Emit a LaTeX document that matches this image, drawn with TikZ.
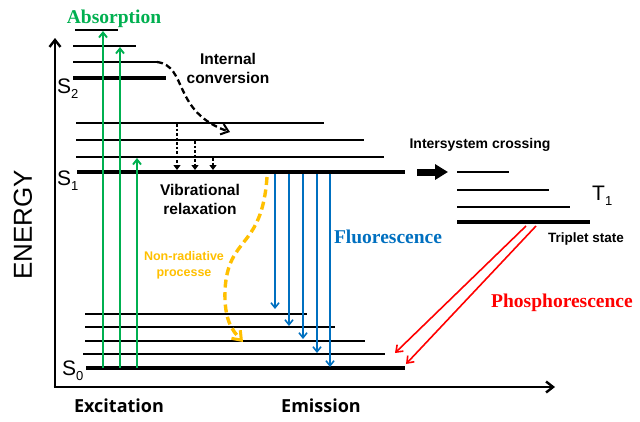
\documentclass[tikz,border=0pt]{standalone}
\usepackage{fontspec}
\setmainfont{Liberation Sans}
\newfontfamily\tnr{Liberation Serif}
\newfontfamily\osans{Open Sans}
\usetikzlibrary{arrows.meta}
\definecolor{absgreen}{RGB}{0,176,80}
\definecolor{flblue}{RGB}{0,112,192}
\definecolor{phred}{RGB}{255,0,0}
\definecolor{nrgold}{RGB}{255,192,0}
\newcommand\lvsub[1]{\raisebox{-5pt}{\fontsize{13}{13}\selectfont #1}}
\begin{document}
\begin{tikzpicture}[x=1pt,y=-1pt,
  lvl/.style={line width=1.9pt},
  lvlthick/.style={line width=3.8pt},
  axis/.style={line width=2.6pt,-{Straight Barb[length=7pt,width=11pt,line width=2.4pt]}},
  absarrow/.style={absgreen,line width=1.9pt,-{Straight Barb[length=5pt,width=8pt]}},
  flarrow/.style={flblue,line width=1.6pt,-{Straight Barb[length=5pt,width=8pt]}},
  pharrow/.style={phred,line width=1.6pt,-{Straight Barb[length=6pt,width=9pt]}},
  vrarrow/.style={line width=2.3pt,dash pattern=on 2.5pt off 2pt,-{Triangle[length=5pt,width=7pt]}},
  icarrow/.style={line width=2.3pt,dash pattern=on 6pt off 3.5pt,-{Straight Barb[length=7pt,width=11pt,line width=2pt]}},
  nrarrow/.style={nrgold,line width=3.4pt,dash pattern=on 8pt off 4.5pt,-{Straight Barb[length=8pt,width=12pt,line width=3pt]}},
  slab/.style={inner sep=0pt,font=\fontsize{21}{21}\selectfont},
  bsans/.style={inner sep=0pt,align=center,font=\bfseries\fontsize{15.5}{19}\selectfont},
  bserif/.style={inner sep=0pt,font=\tnr\bfseries\fontsize{19.5}{20}\selectfont},
  bottomlab/.style={inner sep=0pt,font=\osans\bfseries\fontsize{18}{18}\selectfont}
]
\useasboundingbox (0,0) rectangle (640,421);
\fill[white] (0,0) rectangle (640,421);

% axes
\coordinate (origin) at (55,387);
\coordinate (ytip) at (55,38);
\coordinate (xtip) at (555,387);
\draw[axis] (origin) -- (ytip);
\draw[axis] ([xshift=-1.3pt]origin) -- (xtip);

% S2 levels
\draw[lvl] (75,30) -- (118,30);
\draw[lvl] (73,46) -- (136,46);
\draw[lvl] (73,62) -- (157,62);
\draw[lvlthick] (73,78) -- (166,78);
% S1 levels
\draw[lvl] (76,123) -- (324,123);
\draw[lvl] (76,140) -- (364,140);
\draw[lvl] (76,157) -- (384,157);
\draw[lvlthick] (77,172) -- (405,172);
% S0 levels
\draw[lvl] (85,314) -- (307,314);
\draw[lvl] (85,327) -- (335,327);
\draw[lvl] (85,341) -- (365,341);
\draw[lvl] (83,354) -- (385,354);
\draw[lvlthick] (86,368) -- (405,368);
% T1 levels
\draw[lvl] (457,172) -- (509,172);
\draw[lvl] (457,190) -- (549,190);
\draw[lvl] (457,207) -- (570,207);
\draw[lvlthick] (457,222) -- (590,222);

% level labels
\node[slab,anchor=base west] (s2) at (57,93) {S\lvsub{2}};
\node[slab,anchor=base west] (s1) at (57,185) {S\lvsub{1}};
\node[slab,anchor=base west] (s0) at (62,375) {S\lvsub{0}};
\node[slab,anchor=base west] (t1) at (592,200) {T\lvsub{1}};

\node[rotate=90,inner sep=0pt,font=\fontsize{26}{26}\selectfont] (energy) at (23,225) {ENERGY};

% absorption arrows
\coordinate (a1s) at (103,368); \coordinate (a1e) at (103,31);
\coordinate (a2s) at (120,368); \coordinate (a2e) at (120,47);
\coordinate (a3s) at (137,368); \coordinate (a3e) at (137,158);
\draw[absarrow] (a1s) -- (a1e);
\draw[absarrow] (a2s) -- (a2e);
\draw[absarrow] (a3s) -- (a3e);
\node[bserif,text=absgreen] (abs) at (114,19) {Absorption};

% internal conversion
\coordinate (ics) at (157,62);
\coordinate (ice) at (230,132);
\draw[icarrow] (ics) .. controls (188,66) and (172,112) .. (ice);
\node[bsans] (ic) at (228,68) {Internal\\conversion};

% vibrational relaxation
\coordinate (v1s) at (177,124); \coordinate (v1e) at (177,170);
\coordinate (v2s) at (195,141); \coordinate (v2e) at (195,170);
\coordinate (v3s) at (213,158); \coordinate (v3e) at (213,170);
\draw[vrarrow] (v1s) -- (v1e);
\draw[vrarrow] (v2s) -- (v2e);
\draw[vrarrow] (v3s) -- (v3e);
\node[bsans] (vr) at (200,199) {Vibrational\\relaxation};

% non-radiative
\coordinate (nrs) at (267,177);
\coordinate (nre) at (243,342);
\draw[nrarrow] (nrs) .. controls (262,250) and (228,235) .. (225,290) .. controls (224,320) and (232,330) .. (nre);
\node[bsans,text=nrgold,font=\bfseries\fontsize{12.5}{16}\selectfont] (nr) at (184,265) {Non-radiative\\processe};

% fluorescence
\coordinate (f1s) at (275,174); \coordinate (f1e) at (275,309);
\coordinate (f2s) at (289,174); \coordinate (f2e) at (289,326);
\coordinate (f3s) at (303,174); \coordinate (f3e) at (303,339);
\coordinate (f4s) at (317,174); \coordinate (f4e) at (317,353);
\coordinate (f5s) at (330,174); \coordinate (f5e) at (330,367);
\draw[flarrow] (f1s) -- (f1e);
\draw[flarrow] (f2s) -- (f2e);
\draw[flarrow] (f3s) -- (f3e);
\draw[flarrow] (f4s) -- (f4e);
\draw[flarrow] (f5s) -- (f5e);
\node[bserif,text=flblue] (fl) at (388,237) {Fluorescence};

% intersystem crossing
\coordinate (iscs) at (417,172);
\coordinate (isce) at (448,172);
\draw[line width=7pt,-{Triangle[length=13pt,width=15pt]}] (iscs) -- (isce);
\node[bsans,font=\bfseries\fontsize{14}{14}\selectfont] (isc) at (480,145) {Intersystem crossing};
\node[bsans,font=\bfseries\fontsize{13.5}{14}\selectfont] (ts) at (586,239) {Triplet state};

% phosphorescence
\coordinate (p1s) at (526,226); \coordinate (p1e) at (395,353);
\coordinate (p2s) at (536,226); \coordinate (p2e) at (406,364);
\draw[pharrow] (p1s) -- (p1e);
\draw[pharrow] (p2s) -- (p2e);
\node[bserif,text=phred] (ph) at (562,303) {Phosphorescence};

% bottom labels
\node[bottomlab] (exc) at (119,406) {Excitation};
\node[bottomlab] (emi) at (321,406) {Emission};
\end{tikzpicture}
\end{document}
